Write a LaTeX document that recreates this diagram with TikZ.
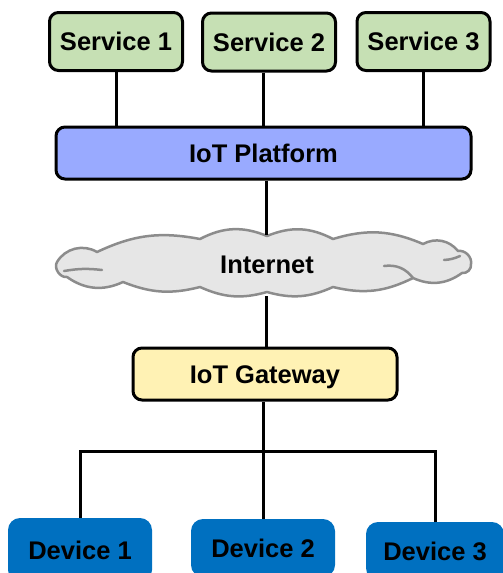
\documentclass[tikz,border=0pt]{standalone}
\usepackage{fontspec}
\setmainfont{Liberation Sans}
\definecolor{svcgreen}{RGB}{198,224,180}
\definecolor{platblue}{RGB}{153,170,255}
\definecolor{gwyellow}{RGB}{255,242,180}
\definecolor{cloudgray}{RGB}{230,230,230}
\definecolor{cloudline}{RGB}{140,140,140}
\definecolor{devblue}{RGB}{0,112,192}
\tikzset{
  lbl/.style={font=\fontsize{25.5}{27}\selectfont\bfseries, text height=18pt, text depth=0pt, inner sep=0pt},
  box/.style={lbl, draw=black, line width=3pt, rounded corners=9pt},
  svc/.style={box, fill=svcgreen, minimum width=133pt, minimum height=58pt},
  plat/.style={box, fill=platblue, minimum width=415pt, minimum height=52pt},
  gw/.style={box, fill=gwyellow, minimum width=264pt, minimum height=52pt},
  dev/.style={lbl, fill=devblue, rounded corners=12pt, minimum width=144pt},
  netcloud/.style={lbl, minimum width=417pt, minimum height=60pt},
  cloudpath/.style={draw=cloudline, line width=2.5pt, fill=cloudgray, line join=round},
  cloudinner/.style={draw=cloudline, line width=2.5pt, line cap=round},
  conn/.style={line width=3pt, draw=black}
}
\begin{document}
\begin{tikzpicture}[x=1pt,y=-1pt]
\useasboundingbox (0,0) rectangle (503,573);
\clip (0,0) rectangle (503,573);
% cloud outline
\path[cloudpath] (57,262)
  to[bend left=45] (97,252)
  to[bend left=18] (200,239)
  to[bend left=25] (267,236)
  to[bend left=25] (333,239)
  to[bend left=20] (423,244)
  to[bend left=40] (458,251)
  to[bend left=55] (471,264)
  to[bend left=55] (462,273)
  to[bend left=30] (413,278)
  to[bend left=20] (333,287)
  to[bend left=20] (267,292)
  to[bend left=20] (200,287)
  to[bend left=18] (123,282)
  to[bend left=30] (67,277)
  to[bend left=65] (57,262) -- cycle;
\draw[cloudinner] (64,271) to[bend left=8] (102,270);
\draw[cloudinner] (384,266) to[bend left=30] (413,278);
\draw[cloudinner] (444,260) to[bend right=10] (460,256);
\node[netcloud] (net) at (267,264) {Internet};
\node[svc] (s1) at (116,41.5) {Service 1};
\node[svc] (s2) at (269,42) {Service 2};
\node[svc] (s3) at (423.5,41.5) {Service 3};
\node[plat] (plat) at (263.5,153) {IoT Platform};
\node[gw] (gw) at (265,374) {IoT Gateway};
\node[dev, minimum height=64pt] (d1) at (80,550) {Device 1};
\node[dev, minimum height=58pt] (d2) at (263,548) {Device 2};
\node[dev, minimum height=58pt, minimum width=138pt] (d3) at (435,551) {Device 3};
\coordinate (bus) at (263,451);
\draw[conn] (s1.south) -- (s1.south |- plat.north);
\draw[conn] (s2.south -| 263,0) -- (263,0 |- plat.north);
\draw[conn] (s3.south) -- (s3.south |- plat.north);
\draw[conn] (plat.south -| 266,0) -- (266,0 |- 0,235);
\draw[conn] (266,0 |- 0,296) -- (266,0 |- gw.north);
\draw[conn] (gw.south -| bus) -- (d2.north);
\draw[conn] (d1.north) |- (bus) -| (d3.north);
\end{tikzpicture}
\end{document}
